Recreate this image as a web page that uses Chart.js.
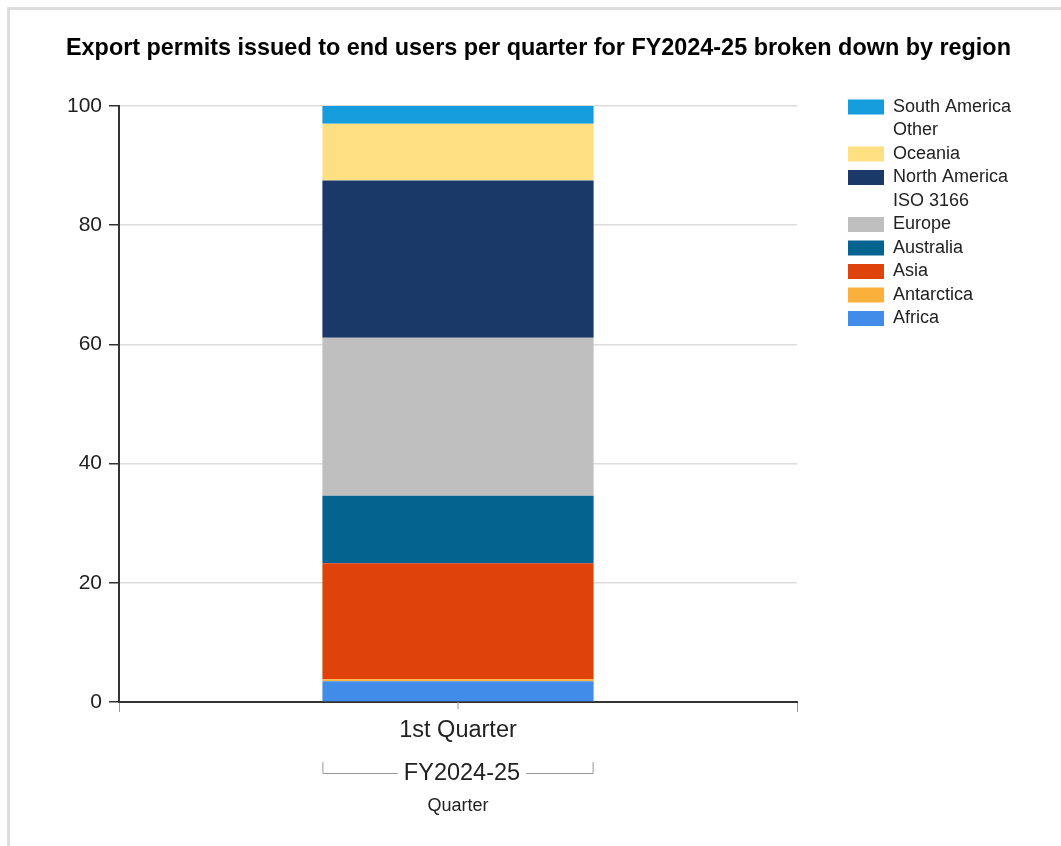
<!DOCTYPE html>
<html>
<head>
<meta charset="utf-8">
<script src="https://cdn.jsdelivr.net/npm/chart.js@4"></script>
<style>
  html, body { margin: 0; padding: 0; background: #fff; overflow: hidden; }
  .frame { position: absolute; left: 7px; top: 7px; width: 1100px; height: 900px; border-left: 3px solid #dcdcdc; border-top: 3px solid #dcdcdc; }
  #myChart { position: absolute; left: 0; top: 0; }
</style>
</head>
<body>
<div class="frame"></div>
<canvas id="myChart" width="1061" height="846"></canvas>
<script>
const quarters = ["1st Quarter"];
const fiscalYear = "FY2024-25";
const regions = ["Africa", "Antarctica", "Asia", "Australia", "Europe", "ISO 3166", "North America", "Oceania", "Other", "South America"];
const regionValues = [3.5, 0.3, 19.5, 11.3, 26.5, 0, 26.4, 9.5, 0, 3.0];
const regionColors = ["#418be9", "#fbb03c", "#e0420b", "#05648f", "#bfbfbf", "rgba(0,0,0,0)", "#1b3968", "#fee083", "rgba(0,0,0,0)", "#149cdc"];
const yTicks = [0, 20, 40, 60, 80, 100];

const fontFamily = "'Liberation Sans', Arial, sans-serif";
Chart.defaults.font.family = fontFamily;
Chart.defaults.color = "#222";

const legendColumnWidth = 264; // room kept right of the plot for the legend

// fixed legend width, then move it up and right of the plot like the original
const legendNudge = {
    id: "legendNudge",
    afterInit(chart) {
        const lg = chart.legend;
        const fit = lg.fit;
        lg.fit = function () {
            fit.call(this);
            this.width = legendColumnWidth;
        };
    },
    afterLayout(chart) {
        const lg = chart.legend;
        const dx = chart.chartArea.right + 45.5 - lg.left;
        const dy = chart.chartArea.top - 13.5 - lg.top;
        lg.left += dx;
        lg.right += dx;
        lg.top += dy;
        lg.bottom += dy;
    }
};

// centre tick + the FY bracket under the category label
const groupBracket = {
    id: "groupBracket",
    afterDraw(chart) {
        const ctx = chart.ctx;
        const xScale = chart.scales.x;
        const bottom = chart.chartArea.bottom;
        const bar = chart.getDatasetMeta(0).data[0];
        const left = bar.x - bar.width / 2;
        const right = bar.x + bar.width / 2;
        const centre = xScale.getPixelForValue(0);
        ctx.save();
        ctx.strokeStyle = "#999";
        ctx.lineWidth = 1;
        ctx.beginPath();
        ctx.moveTo(centre, bottom);
        ctx.lineTo(centre, bottom + 7);
        ctx.stroke();

        ctx.font = "23.5px " + fontFamily;
        const textW = ctx.measureText(fiscalYear).width;
        const textX = centre + 4;
        const yLine = bottom + 71.5;
        ctx.beginPath();
        ctx.moveTo(left + 0.5, bottom + 60);
        ctx.lineTo(left + 0.5, yLine);
        ctx.lineTo(textX - textW / 2 - 6, yLine);
        ctx.moveTo(textX + textW / 2 + 6, yLine);
        ctx.lineTo(right - 0.5, yLine);
        ctx.lineTo(right - 0.5, bottom + 60);
        ctx.stroke();

        ctx.fillStyle = "#222";
        ctx.textAlign = "center";
        ctx.textBaseline = "middle";
        ctx.fillText(fiscalYear, textX, bottom + 72);
        ctx.restore();
    }
};

const datasets = regions.map((name, i) => ({
    label: name,
    data: [regionValues[i]],
    backgroundColor: regionColors[i],
    borderColor: regionColors[i],
    borderWidth: 0,
    barPercentage: 0.4,
    categoryPercentage: 1
}));

const ctx = document.getElementById("myChart").getContext("2d");
const myChart = new Chart(ctx, {
    type: "bar",
    data: { labels: quarters, datasets: datasets },
    plugins: [legendNudge, groupBracket],
    options: {
        responsive: false,
        animation: false,
        layout: { padding: { left: 66, right: 0, top: 0, bottom: 0 } },
        plugins: {
            tooltip: { enabled: false },
            title: {
                display: true,
                align: "start",
                text: "Export permits issued to end users per quarter for FY2024-25 broken down by region",
                color: "#000",
                font: { size: 23.4, weight: "bold" },
                padding: { top: 35, bottom: 42.9 }
            },
            legend: {
                position: "right",
                align: "start",
                reverse: true,
                labels: {
                    boxWidth: 36,
                    boxHeight: 15,
                    padding: 5.5,
                    color: "#222",
                    font: { size: 18 }
                }
            }
        },
        scales: {
            x: {
                stacked: true,
                offset: true,
                afterFit: (scale) => { scale.height = 144; },
                grid: { drawOnChartArea: false, offset: true, tickLength: 10, tickColor: "#999" },
                border: { color: "#333", width: 2 },
                ticks: { font: { size: 23.5 }, padding: 4.5, color: "#222" },
                title: { display: true, text: "Quarter", font: { size: 18 }, color: "#222", padding: { top: 0, bottom: 29.5 } }
            },
            y: {
                stacked: true,
                min: yTicks[0],
                max: yTicks[yTicks.length - 1],
                afterFit: (scale) => { scale.width = 53; },
                afterBuildTicks: (scale) => { scale.ticks = yTicks.map(v => ({ value: v })); },
                grid: { color: "#dcdcdc", lineWidth: 1.5, tickLength: 10, tickColor: "#333" },
                border: { color: "#333", width: 2 },
                ticks: { font: { size: 21 }, padding: 7, color: "#222" }
            }
        }
    }
});
</script>
</body>
</html>
